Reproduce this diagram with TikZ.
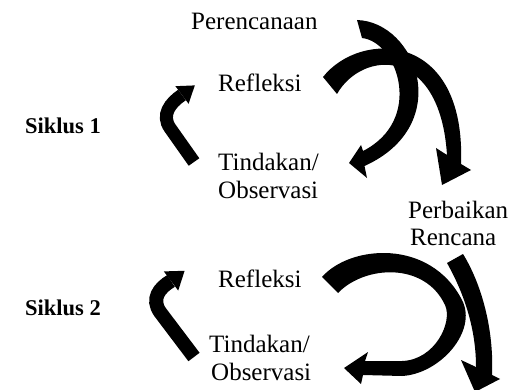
\documentclass[tikz,border=0pt]{standalone}
\usepackage{fontspec}
\setmainfont{Liberation Serif}
\begin{document}
\begin{tikzpicture}[x=1pt,y=-1pt,
  arrowfill/.style={fill=black,draw=none},
  shaft/.style={draw=black,line cap=butt},
  lbl/.style={anchor=base west,inner sep=0pt,font=\fontsize{25}{29}\selectfont},
  cyc/.style={anchor=base west,inner sep=0pt,font=\fontsize{22.5}{26}\selectfont\bfseries}]
\useasboundingbox (0,0) rectangle (513,390);
\fill[white] (0,0) rectangle (513,390);

% labels
\node[lbl] (pren) at (191,30) {Perencanaan};
\node[lbl] (ref1) at (218,92) {Refleksi};
\node[cyc] (sik1) at (25,134) {Siklus 1};
\node[lbl] (tin1) at (218,170) {Tindakan/};
\node[lbl] (obs1) at (218,198) {Observasi};
\node[lbl] (perb) at (408,218) {Perbaikan};
\node[lbl] (renc) at (410,245) {Rencana};
\node[lbl] (ref2) at (218,287) {Refleksi};
\node[cyc] (sik2) at (25,315) {Siklus 2};
\node[lbl] (tin2) at (209,352) {Tindakan/};
\node[lbl] (obs2) at (211,380) {Observasi};

% cycle 1 : Perencanaan -> Tindakan
\fill[arrowfill] (357,20) .. controls (417,22) and (455,125) .. (364.5,166)
  -- (367,178) -- (349,163) -- (361,145) -- (363,151)
  .. controls (424,120) and (398,42) .. (362,38) -- cycle;
% cycle 1 : Refleksi -> Perbaikan Rencana
\fill[arrowfill] (323,77) .. controls (360,30) and (466,30) .. (461,164)
  -- (471,170) -- (442,185) -- (436,148) -- (447,155)
  .. controls (440,45) and (362,50) .. (337,94) -- cycle;
% cycle 1 : Tindakan -> Refleksi
\draw[shaft,line width=13pt] (194,162) -- (170,128) .. controls (161,115) and (170,103) .. (182,95);
\fill[arrowfill] (175.4,86.2) -- (194.8,85.4) -- (188.6,103.8) -- cycle;

% cycle 2 : Refleksi -> Tindakan
\fill[arrowfill] (322,277) .. controls (350,245) and (430,238) .. (462,300)
  .. controls (478,331) and (440,374) .. (402,376) -- (363,375)
  -- (361,384) -- (344,368) -- (368,352) -- (365,361) -- (402,361)
  .. controls (435,360) and (453,322) .. (445,305)
  .. controls (425,262) and (365,265) .. (338,293) -- cycle;
% cycle 2 : Perbaikan Rencana -> down
\fill[arrowfill] (463,254) .. controls (482,285) and (494,330) .. (492,375)
  -- (500,379) -- (475,392) -- (461,360) -- (476,367)
  .. controls (476,330) and (465,295) .. (447,263) -- cycle;
% cycle 2 : Tindakan -> Refleksi
\draw[shaft,line width=14pt] (194,357) -- (160,312) .. controls (151,299) and (159,288) .. (171,281);
\fill[arrowfill] (163.8,271.4) -- (184.6,270.8) -- (178.2,290.6) -- cycle;
\end{tikzpicture}
\end{document}
